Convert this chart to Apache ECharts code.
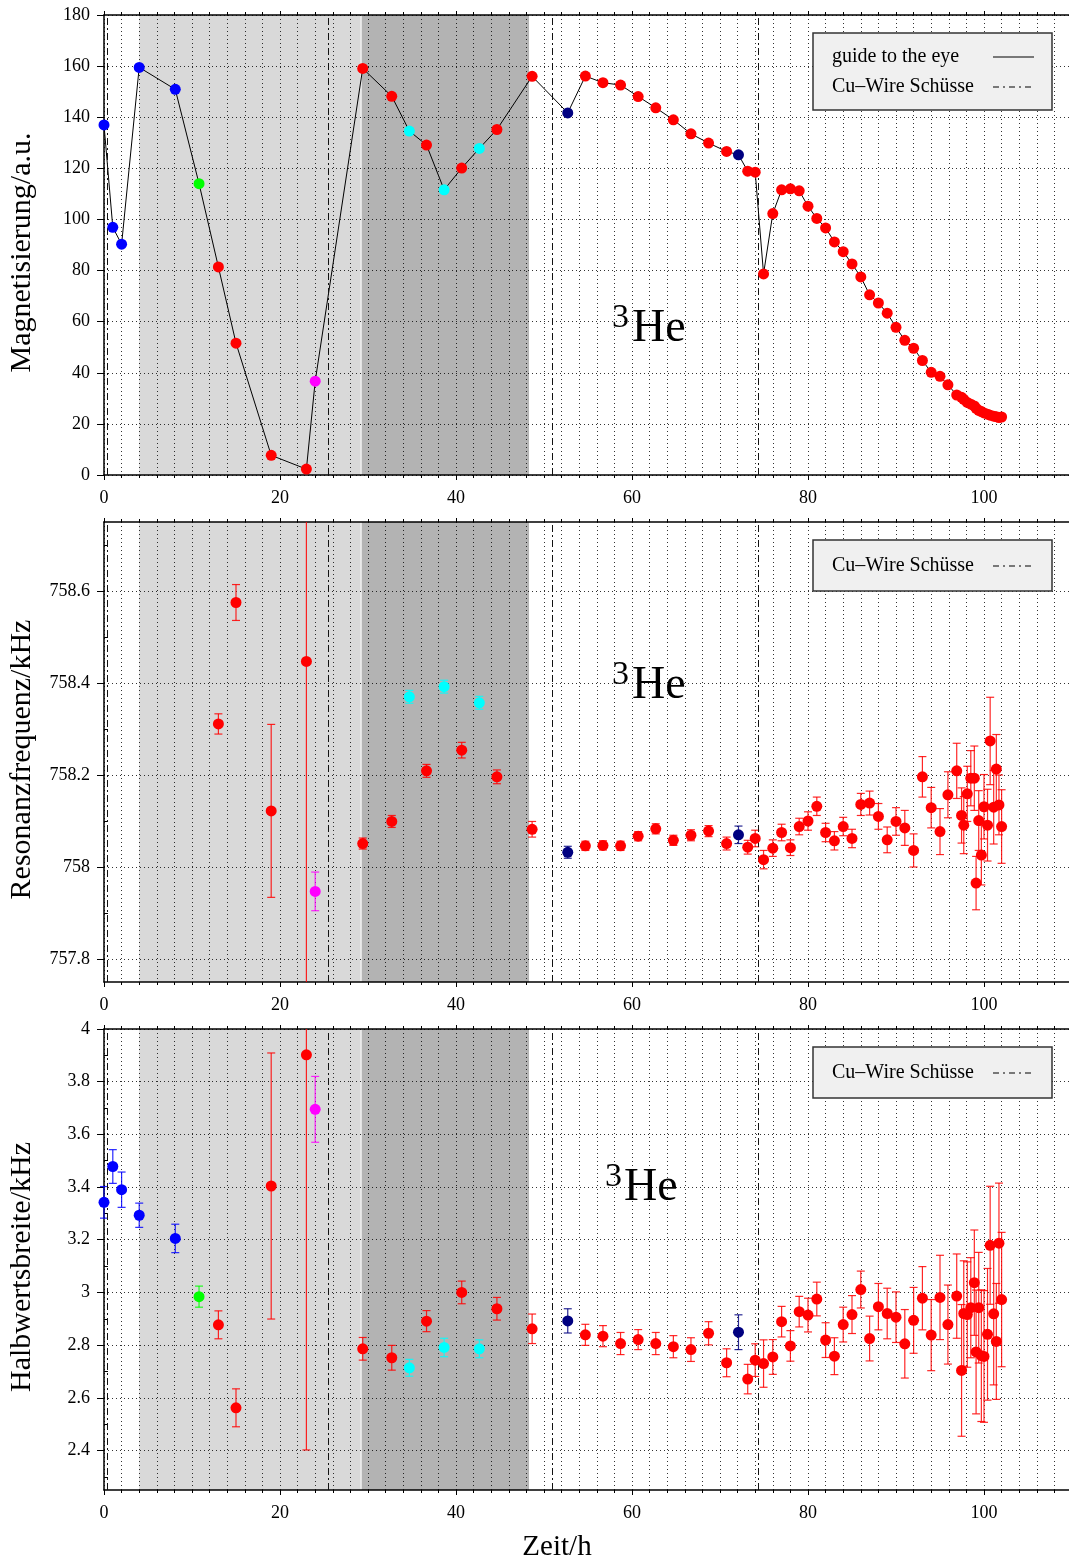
<!DOCTYPE html>
<html>
<head>
<meta charset="utf-8">
<script src="https://cdn.jsdelivr.net/npm/echarts@6/dist/echarts.min.js"></script>
<style>
  html, body { margin: 0; padding: 0; background: #fff; }
  #chart { width: 1069px; height: 1560px; }
</style>
</head>
<body>
<div id="chart"></div>
<script>
// Measurement times (h) of the 3He run
const timeH = [0, 1.0, 2.0, 4.0, 8.1, 10.8, 13.0, 15.0, 19.0, 23.0, 24.0, 29.4, 32.7, 34.7, 36.65, 38.65, 40.65, 42.65, 44.65, 48.65,
  52.7, 54.7, 56.7, 58.7, 60.7, 62.7, 64.7, 66.7, 68.7, 70.75, 72.1, 73.15, 74.0, 74.95, 76.0, 77.0, 78.0, 79.0, 80.0, 81.0,
  82.0, 83.0, 84.0, 85.0, 86.0, 87.0, 88.0, 89.0, 90.0, 91.0, 92.0, 93.0, 94.0, 95.0,
  95.9, 96.9, 97.45, 97.7, 98.1, 98.5, 98.9, 99.1, 99.4, 99.7, 100.0, 100.4, 100.7, 101.1, 101.4, 101.7, 102.0];

// Measurement group of every point (b, g, r, m, c, n)
const runGroup = ['b', 'b', 'b', 'b', 'b', 'g', 'r', 'r', 'r', 'r', 'm', 'r', 'r', 'c', 'r', 'c', 'r', 'c', 'r', 'r',
  'n', 'r', 'r', 'r', 'r', 'r', 'r', 'r', 'r', 'r', 'n', 'r', 'r', 'r', 'r', 'r', 'r', 'r', 'r', 'r',
  'r', 'r', 'r', 'r', 'r', 'r', 'r', 'r', 'r', 'r', 'r', 'r', 'r', 'r',
  'r', 'r', 'r', 'r', 'r', 'r', 'r', 'r', 'r', 'r', 'r', 'r', 'r', 'r', 'r', 'r', 'r'];

// Magnetisation (a.u.)
const magnetisation = [137.0, 96.9, 90.3, 159.5, 150.9, 114.0, 81.4, 51.6, 7.7, 2.3, 36.7, 159.1, 148.2, 134.6, 129.1, 111.6, 120.1, 127.8, 135.2, 156.0,
  141.7, 156.1, 153.5, 152.6, 148.1, 143.7, 139.0, 133.5, 129.9, 126.6, 125.3, 118.9, 118.5, 78.7, 102.3, 111.6, 112.0, 111.2, 105.2, 100.4,
  96.7, 91.2, 87.4, 82.6, 77.5, 70.5, 67.3, 63.3, 57.8, 52.7, 49.6, 44.8, 40.2, 38.6,
  35.3, 31.3, 30.4, 29.6, 28.4, 27.7, 27.0, 26.1, 25.3, 24.8, 24.3, 23.8, 23.4, 23.0, 22.8, 22.5, 22.7];

// Resonance frequency (kHz) and its uncertainty
const resonanceKHz = [null, null, null, null, null, null,
  758.311, 758.575, 758.122, 758.447, 757.947, 758.051, 758.099, 758.370, 758.209, 758.392, 758.254, 758.357, 758.196, 758.082,
  758.032, 758.046, 758.047, 758.046, 758.067, 758.083, 758.058, 758.069, 758.078, 758.051, 758.070, 758.043, 758.062, 758.016, 758.041, 758.075, 758.042, 758.088, 758.100, 758.132,
  758.075, 758.057, 758.088, 758.062, 758.136, 758.139, 758.110, 758.059, 758.099, 758.085, 758.036, 758.196, 758.129, 758.077,
  758.157, 758.209, 758.112, 758.091, 758.159, 758.193, 758.193, 757.965, 758.101, 758.026, 758.131, 758.091, 758.274, 758.130, 758.213, 758.135, 758.088];
const resonanceErr = [null, null, null, null, null, null,
  0.022, 0.039, 0.188, 0.75, 0.042, 0.012, 0.013, 0.014, 0.014, 0.014, 0.017, 0.014, 0.015, 0.017,
  0.013, 0.010, 0.010, 0.010, 0.010, 0.011, 0.011, 0.012, 0.012, 0.014, 0.019, 0.015, 0.018, 0.020, 0.018, 0.018, 0.017, 0.018, 0.020, 0.020,
  0.020, 0.020, 0.020, 0.020, 0.024, 0.026, 0.028, 0.028, 0.030, 0.038, 0.036, 0.044, 0.044, 0.050,
  0.050, 0.060, 0.060, 0.062, 0.060, 0.060, 0.070, 0.058, 0.065, 0.065, 0.070, 0.078, 0.095, 0.080, 0.075, 0.065, 0.080];

// Half width (kHz) and its uncertainty
const halfWidthKHz = [3.342, 3.478, 3.390, 3.293, 3.205, 2.984, 2.877, 2.562, 3.404, 3.902, 3.695, 2.786, 2.752, 2.714, 2.891, 2.791, 3.000, 2.786, 2.938, 2.862,
  2.892, 2.839, 2.834, 2.806, 2.821, 2.806, 2.794, 2.783, 2.845, 2.733, 2.849, 2.671, 2.743, 2.730, 2.755, 2.889, 2.797, 2.927, 2.914, 2.975,
  2.819, 2.758, 2.878, 2.916, 3.011, 2.825, 2.946, 2.920, 2.906, 2.805, 2.894, 2.978, 2.838, 2.981,
  2.878, 2.986, 2.704, 2.920, 2.916, 2.942, 3.037, 2.774, 2.942, 2.760, 2.757, 2.841, 3.179, 2.919, 2.814, 3.187, 2.973];
const halfWidthErr = [0.060, 0.064, 0.067, 0.046, 0.054, 0.040, 0.053, 0.072, 0.505, 1.50, 0.125, 0.043, 0.047, 0.032, 0.040, 0.035, 0.043, 0.034, 0.043, 0.056,
  0.046, 0.040, 0.040, 0.042, 0.038, 0.042, 0.042, 0.045, 0.044, 0.053, 0.066, 0.056, 0.062, 0.090, 0.066, 0.058, 0.058, 0.058, 0.064, 0.064,
  0.066, 0.070, 0.066, 0.072, 0.070, 0.085, 0.088, 0.096, 0.096, 0.130, 0.125, 0.120, 0.135, 0.160,
  0.150, 0.160, 0.250, 0.200, 0.200, 0.190, 0.200, 0.235, 0.210, 0.250, 0.250, 0.250, 0.224, 0.270, 0.220, 0.228, 0.255];

// Cu-wire shots (h) and shaded phases (h)
const cuWireShotsH = [0.4, 25.5, 50.9, 74.4];
const lightPhaseH = [4.0, 29.15];
const gapPhaseH = [29.15, 29.3];
const darkPhaseH = [29.3, 48.3];

// Tick values of the frequency and width axes
const freqTickLabels = [757.8, 758.0, 758.2, 758.4, 758.6];
const freqMinorTicks = [757.9, 758.1, 758.3, 758.5, 758.7];
const widthTickLabels = [2.4, 2.6, 2.8, 3.0, 3.2, 3.4, 3.6, 3.8, 4.0];
const widthMinorTicks = [2.3, 2.5, 2.7, 2.9, 3.1, 3.3, 3.5, 3.7, 3.9];

// ---------------------------------------------------------------------------
const SERIF = "'Liberation Serif', 'Times New Roman', serif";
const GROUP_COLOURS = { b: '#0000ff', g: '#00ff00', r: '#ff0000', m: '#ff00ff', c: '#00ffff', n: '#000080' };
const GROUP_ORDER = ['b', 'g', 'm', 'c', 'n', 'r'];
const DOT = { color: '#000', width: 1, type: [1, 3], opacity: 0.8 };
const GRID_TOPS = [15, 522, 1029];
const GRID_HEIGHTS = [460, 460, 461];

// The time axis runs past the right edge of the page, so the grid must not be squeezed into it
const grids = GRID_TOPS.map((top, i) => ({
  left: 104, top: top, width: 968, height: GRID_HEIGHTS[i],
  containLabel: false, outerBoundsMode: 'none'
}));

function bottomX(g) {
  return {
    type: 'value', gridIndex: g, min: 0, max: 110, interval: 20, position: 'bottom', z: 3,
    axisLine: { show: true, onZero: false, lineStyle: { color: '#000', width: 1.5 } },
    axisTick: { show: true, length: 5, lineStyle: { color: '#000', width: 1 } },
    minorTick: { show: true, splitNumber: 10, length: 3, lineStyle: { color: '#000', width: 1 } },
    splitLine: { show: true, lineStyle: DOT },
    minorSplitLine: { show: true, lineStyle: DOT },
    axisLabel: { show: true, margin: 14, fontSize: 18, color: '#000', fontFamily: SERIF, showMaxLabel: false }
  };
}
function topX(g) {
  return {
    type: 'value', gridIndex: g, min: 0, max: 110, interval: 20, position: 'top', z: 3,
    axisLine: { show: true, onZero: false, lineStyle: { color: '#000', width: 1.5 } },
    axisTick: { show: true, length: 4, lineStyle: { color: '#000', width: 1 } },
    minorTick: { show: true, splitNumber: 10, length: 3, lineStyle: { color: '#000', width: 1 } },
    splitLine: { show: false }, minorSplitLine: { show: false },
    axisLabel: { show: false }
  };
}
function yName(text) {
  return {
    name: text, nameLocation: 'middle', nameGap: 67, nameRotate: 90,
    nameTextStyle: { fontSize: 30, fontFamily: SERIF, color: '#000', padding: [0, 15, 0, 0] }
  };
}
const yLabel = { show: true, margin: 14, fontSize: 18, color: '#000', fontFamily: SERIF };

const xAxes = [bottomX(0), topX(0), bottomX(1), topX(1), bottomX(2), topX(2)];
const yAxes = [
  Object.assign({
    type: 'value', gridIndex: 0, min: 0, max: 180, interval: 20, z: 3,
    axisLine: { show: true, lineStyle: { color: '#000', width: 1.5 } },
    axisTick: { show: true, length: 7, lineStyle: { color: '#000' } },
    splitLine: { show: true, lineStyle: DOT },
    axisLabel: yLabel
  }, yName('Magnetisierung/a.u.')),
  Object.assign({
    type: 'value', gridIndex: 1, min: 757.75, max: 758.75, z: 3,
    axisLine: { show: true, lineStyle: { color: '#000', width: 1.5 } },
    axisTick: { show: true, length: 7, customValues: freqTickLabels, lineStyle: { color: '#000' } },
    splitLine: { show: true, lineStyle: DOT },
    axisLabel: Object.assign({ customValues: freqTickLabels }, yLabel)
  }, yName('Resonanzfrequenz/kHz')),
  {
    type: 'value', gridIndex: 1, min: 757.75, max: 758.75, z: 3,
    axisLine: { show: false },
    axisTick: { show: true, length: 4, customValues: freqMinorTicks, lineStyle: { color: '#000' } },
    splitLine: { show: false }, axisLabel: { show: false }
  },
  Object.assign({
    type: 'value', gridIndex: 2, min: 2.25, max: 4.0, z: 3,
    axisLine: { show: true, lineStyle: { color: '#000', width: 1.5 } },
    axisTick: { show: true, length: 7, customValues: widthTickLabels, lineStyle: { color: '#000' } },
    splitLine: { show: true, lineStyle: DOT },
    axisLabel: Object.assign({ customValues: widthTickLabels }, yLabel)
  }, yName('Halbwertsbreite/kHz')),
  {
    type: 'value', gridIndex: 2, min: 2.25, max: 4.0, z: 3,
    axisLine: { show: false },
    axisTick: { show: true, length: 4, customValues: widthMinorTicks, lineStyle: { color: '#000' } },
    splitLine: { show: false }, axisLabel: { show: false }
  }
];

// Shaded phases and Cu-wire markers for one panel
function panelDecor(xi, yi) {
  return [
    {
      type: 'line', xAxisIndex: xi, yAxisIndex: yi, data: [], z: 1, silent: true,
      markArea: {
        silent: true,
        data: [
          [{ xAxis: lightPhaseH[0], itemStyle: { color: '#d9d9d9' } }, { xAxis: lightPhaseH[1] }],
          [{ xAxis: gapPhaseH[0], itemStyle: { color: '#e9e9e9' } }, { xAxis: gapPhaseH[1] }],
          [{ xAxis: darkPhaseH[0], itemStyle: { color: '#b3b3b3' } }, { xAxis: darkPhaseH[1] }]
        ]
      }
    },
    {
      name: 'Cu–Wire Schüsse', type: 'line', xAxisIndex: xi, yAxisIndex: yi, data: [], z: 4, silent: true,
      markLine: {
        silent: true, symbol: ['none', 'none'], label: { show: false },
        lineStyle: { color: '#111', width: 1, type: [7, 3, 2, 3] },
        data: cuWireShotsH.map(v => ({ xAxis: v }))
      }
    }
  ];
}

function groupPoints(values, errors, group) {
  const out = [];
  timeH.forEach((t, i) => {
    if (runGroup[i] !== group || values[i] == null) return;
    out.push(errors ? [t, values[i], errors[i]] : [t, values[i]]);
  });
  return out;
}

function errorBarRender(params, api) {
  const x = api.value(0), y = api.value(1), e = api.value(2);
  const cs = params.coordSys;
  const hi = api.coord([x, y + e]);
  const lo = api.coord([x, y - e]);
  const top = Math.max(hi[1], cs.y);
  const bottom = Math.min(lo[1], cs.y + cs.height);
  const cx = hi[0];
  const half = 4;
  const color = api.visual('color');
  const st = () => ({ stroke: color, lineWidth: 1.2, opacity: 0.85 });
  const children = [{ type: 'line', shape: { x1: cx, y1: top, x2: cx, y2: bottom }, style: st() }];
  if (hi[1] >= cs.y) children.push({ type: 'line', shape: { x1: cx - half, y1: hi[1], x2: cx + half, y2: hi[1] }, style: st() });
  if (lo[1] <= cs.y + cs.height) children.push({ type: 'line', shape: { x1: cx - half, y1: lo[1], x2: cx + half, y2: lo[1] }, style: st() });
  return { type: 'group', children: children };
}

function errorPanel(xi, yi, values, errors) {
  const list = [];
  GROUP_ORDER.forEach(g => {
    const pts = groupPoints(values, errors, g);
    if (!pts.length) return;
    list.push({
      type: 'custom', xAxisIndex: xi, yAxisIndex: yi, z: 4, silent: true,
      itemStyle: { color: GROUP_COLOURS[g] },
      encode: { x: 0, y: 1 },
      renderItem: errorBarRender, data: pts
    });
    list.push({
      type: 'scatter', xAxisIndex: xi, yAxisIndex: yi, z: 5, symbolSize: 11,
      itemStyle: { color: GROUP_COLOURS[g], opacity: 1 },
      data: pts.map(p => [p[0], p[1]])
    });
  });
  return list;
}

const series = [].concat(
  panelDecor(0, 0),
  [{
    name: 'guide to the eye', type: 'line', xAxisIndex: 0, yAxisIndex: 0, z: 4,
    showSymbol: false, lineStyle: { color: '#000', width: 1 },
    data: timeH.map((t, i) => [t, magnetisation[i]])
  }],
  GROUP_ORDER.map(g => ({
    type: 'scatter', xAxisIndex: 0, yAxisIndex: 0, z: 5, symbolSize: 11,
    itemStyle: { color: GROUP_COLOURS[g], opacity: 1 },
    data: groupPoints(magnetisation, null, g)
  })),
  panelDecor(2, 1),
  errorPanel(2, 1, resonanceKHz, resonanceErr),
  panelDecor(4, 3),
  errorPanel(4, 3, halfWidthKHz, halfWidthErr)
);

// Legend boxes, isotope labels and the shared time-axis title
function legendBox(y, h, rows) {
  const els = [{
    type: 'rect', shape: { x: 813, y: y, width: 239, height: h },
    style: { fill: '#f0f0f0', stroke: '#333', lineWidth: 1.5 }, z: 100
  }];
  rows.forEach(r => {
    els.push({
      type: 'text', x: 832, y: r.y, z: 101,
      style: { text: r.text, font: '20px ' + SERIF, fill: '#000', verticalAlign: 'middle' }
    });
    els.push({
      type: 'line', shape: { x1: 993, y1: r.y, x2: 1034, y2: r.y }, z: 101,
      style: { stroke: '#000', lineWidth: 1, lineDash: r.dash || null }
    });
  });
  return els;
}
function heLabel(x3, y3, xHe, yHe) {
  return [
    { type: 'text', x: x3, y: y3, z: 101, style: { text: '3', font: '34px ' + SERIF, fill: '#000', verticalAlign: 'middle' } },
    { type: 'text', x: xHe, y: yHe, z: 101, style: { text: 'He', font: '46px ' + SERIF, fill: '#000', verticalAlign: 'middle' } }
  ];
}

const graphic = [].concat(
  legendBox(33, 77, [{ text: 'guide to the eye', y: 57 }, { text: 'Cu–Wire Schüsse', y: 87, dash: [6, 4, 2, 4] }]),
  legendBox(540, 51, [{ text: 'Cu–Wire Schüsse', y: 566, dash: [6, 4, 2, 4] }]),
  legendBox(1047, 51, [{ text: 'Cu–Wire Schüsse', y: 1073, dash: [6, 4, 2, 4] }]),
  heLabel(612, 318, 632, 329),
  heLabel(612, 675, 632, 686),
  heLabel(605, 1177, 624, 1188),
  [{ type: 'text', x: 557, y: 1547, z: 101,
     style: { text: 'Zeit/h', font: '29px ' + SERIF, fill: '#000', align: 'center', verticalAlign: 'middle' } }]
);

const chart = echarts.init(document.getElementById('chart'), null, { renderer: 'canvas' });
chart.setOption({
  animation: false,
  backgroundColor: '#fff',
  textStyle: { fontFamily: SERIF },
  grid: grids,
  xAxis: xAxes,
  yAxis: yAxes,
  series: series,
  graphic: graphic
});
</script>
</body>
</html>
